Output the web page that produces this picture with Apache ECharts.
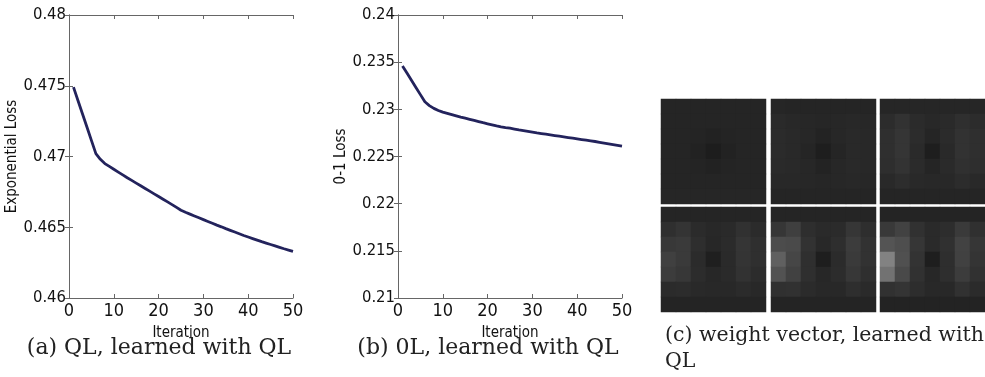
<!DOCTYPE html>
<html>
<head>
<meta charset="utf-8">
<script src="https://cdn.jsdelivr.net/npm/echarts@6/dist/echarts.min.js"></script>
<style>
  html, body { margin: 0; padding: 0; background: #fff; }
  #main { width: 985px; height: 377px; }
</style>
</head>
<body>
<div id="main"></div>
<script>
// (a) exponential loss per iteration (iterations 1..50)
var expLoss = [
  0.47490, 0.47396, 0.47302, 0.47208, 0.47114, 0.47020, 0.46980, 0.46950, 0.46930, 0.46910,
  0.46890, 0.46870, 0.46850, 0.46831, 0.46812, 0.46793, 0.46774, 0.46755, 0.46736, 0.46717,
  0.46698, 0.46679, 0.46660, 0.46640, 0.46620, 0.46606, 0.46593, 0.46580, 0.46567, 0.46554,
  0.46541, 0.46528, 0.46515, 0.46503, 0.46490, 0.46478, 0.46466, 0.46454, 0.46442, 0.46431,
  0.46420, 0.46409, 0.46398, 0.46388, 0.46378, 0.46368, 0.46358, 0.46348, 0.46339, 0.46330
];

// (b) 0-1 loss per iteration
var zeroOneLoss = [
  0.23460, 0.23384, 0.23308, 0.23232, 0.23156, 0.23080, 0.23040, 0.23010, 0.22988, 0.22970,
  0.22957, 0.22944, 0.22931, 0.22918, 0.22906, 0.22894, 0.22882, 0.22870, 0.22858, 0.22847,
  0.22836, 0.22825, 0.22815, 0.22807, 0.22800, 0.22791, 0.22782, 0.22774, 0.22766, 0.22758,
  0.22750, 0.22743, 0.22736, 0.22729, 0.22722, 0.22715, 0.22708, 0.22701, 0.22694, 0.22687,
  0.22680, 0.22673, 0.22666, 0.22659, 0.22651, 0.22643, 0.22635, 0.22627, 0.22619, 0.22611
];

// (c) weight vector tiles, grey level 0..255, 7x7 each, row 0 at top
var tile1 = [
  [37, 37, 37, 37, 37, 37, 37],
  [37, 37, 37, 37, 37, 37, 37],
  [37, 37, 36, 34, 36, 37, 37],
  [37, 37, 34, 29, 34, 37, 37],
  [37, 37, 36, 34, 36, 37, 37],
  [37, 37, 37, 37, 37, 37, 37],
  [38, 38, 38, 38, 38, 38, 38]
];
var tile2 = [
  [38, 37, 37, 37, 37, 37, 37],
  [42, 40, 39, 38, 39, 40, 39],
  [43, 41, 39, 35, 39, 41, 40],
  [43, 41, 37, 30, 37, 41, 40],
  [42, 41, 39, 35, 39, 41, 40],
  [40, 40, 39, 38, 39, 40, 39],
  [37, 37, 37, 37, 37, 37, 37]
];
var tile3 = [
  [38, 38, 38, 38, 38, 38, 38],
  [44, 50, 43, 40, 42, 47, 44],
  [47, 53, 44, 37, 43, 50, 47],
  [47, 53, 42, 30, 41, 50, 47],
  [46, 51, 43, 37, 42, 48, 46],
  [41, 45, 41, 40, 40, 44, 41],
  [37, 37, 37, 37, 37, 37, 37]
];
var tile4 = [
  [37, 37, 37, 37, 37, 37, 37],
  [47, 52, 43, 40, 42, 49, 43],
  [56, 58, 46, 39, 43, 53, 47],
  [64, 58, 43, 31, 42, 52, 47],
  [60, 55, 44, 39, 42, 50, 44],
  [43, 44, 41, 40, 40, 43, 40],
  [36, 36, 36, 36, 36, 36, 36]
];
var tile5 = [
  [37, 37, 37, 37, 37, 37, 37],
  [54, 63, 46, 42, 43, 54, 46],
  [76, 74, 50, 40, 46, 60, 50],
  [96, 70, 47, 30, 43, 58, 50],
  [82, 65, 47, 39, 44, 55, 47],
  [48, 49, 43, 40, 40, 46, 42],
  [36, 36, 36, 36, 36, 36, 36]
];
var tile6 = [
  [36, 36, 36, 36, 36, 36, 36],
  [57, 66, 49, 42, 45, 58, 48],
  [84, 78, 54, 42, 48, 66, 54],
  [130, 80, 51, 30, 46, 65, 52],
  [114, 73, 49, 39, 46, 60, 49],
  [49, 52, 45, 40, 40, 49, 43],
  [35, 35, 35, 35, 35, 35, 35]
];
var tiles = [tile1, tile2, tile3, tile4, tile5, tile6];

var chart = echarts.init(document.getElementById('main'));
var SANS = '"DejaVu Sans Condensed", "Liberation Sans", sans-serif';
var SERIF = '"DejaVu Serif", "Liberation Serif", serif';
var AXIS_COLOR = '#666';
var LINE_COLOR = '#23235c';

function fmt(v) { return String(+v.toFixed(3)); }

function pairs(arr) {
  return arr.map(function (v, i) { return [i + 1, v]; });
}

var grids = [
  { left: 69, top: 15, width: 224, height: 283 },
  { left: 398, top: 15, width: 224, height: 283 }
];
// 105 = 7 * 15, so every cell lands on whole pixels
var tileCells = [
  { left: 661, top: 99, width: 105, height: 105 },
  { left: 771, top: 99, width: 105, height: 105 },
  { left: 880, top: 99, width: 105, height: 105 },
  { left: 661, top: 207, width: 105, height: 105 },
  { left: 771, top: 207, width: 105, height: 105 },
  { left: 880, top: 207, width: 105, height: 105 }
];

var xAxes = [], yAxes = [], series = [];
var lineSpecs = [
  { data: expLoss, min: 0.46, max: 0.48, name: 'Exponential Loss' },
  { data: zeroOneLoss, min: 0.21, max: 0.24, name: '0-1 Loss' }
];

lineSpecs.forEach(function (s, g) {
  var tick = { show: true, inside: true, length: 4, lineStyle: { color: AXIS_COLOR } };
  var line = { show: true, lineStyle: { color: AXIS_COLOR, width: 1 } };
  xAxes.push({
    gridIndex: g, type: 'value', min: 0, max: 50, interval: 10,
    axisLine: line, axisTick: tick, splitLine: { show: false },
    axisLabel: { fontFamily: SANS, fontSize: 18, color: '#111', margin: 4 },
    name: 'Iteration', nameLocation: 'middle', nameGap: 28,
    nameTextStyle: { fontFamily: SANS, fontSize: 15, color: '#111' }
  });
  xAxes.push({
    gridIndex: g, type: 'value', position: 'top', min: 0, max: 50, interval: 10,
    axisLine: line, axisTick: tick, splitLine: { show: false },
    axisLabel: { show: false }
  });
  yAxes.push({
    gridIndex: g, type: 'value', min: s.min, max: s.max, interval: 0.005,
    axisLine: line, axisTick: tick, splitLine: { show: false },
    axisLabel: { fontFamily: SANS, fontSize: 16.5, color: '#111', margin: 3, formatter: fmt },
    name: s.name, nameLocation: 'middle', nameGap: 34,
    nameTextStyle: { fontFamily: SANS, fontSize: 15, color: '#111' }
  });
  yAxes.push({
    gridIndex: g, type: 'value', position: 'right', min: s.min, max: s.max, interval: 0.005,
    axisLine: line, axisTick: tick, splitLine: { show: false },
    axisLabel: { show: false }
  });
  series.push({
    type: 'line', xAxisIndex: g * 2, yAxisIndex: g * 2,
    data: pairs(s.data), showSymbol: false, silent: true,
    lineStyle: { color: LINE_COLOR, width: 2.8 }
  });
});

var cells = [0, 1, 2, 3, 4, 5, 6];
tiles.forEach(function (t, i) {
  var gi = 2 + i;
  xAxes.push({ gridIndex: gi, type: 'category', data: cells, show: false });
  yAxes.push({ gridIndex: gi, type: 'category', data: cells, show: false, inverse: true });
  var d = [];
  t.forEach(function (row, r) {
    row.forEach(function (v, c) { d.push([c, r, v]); });
  });
  series.push({
    type: 'heatmap', xAxisIndex: xAxes.length - 1, yAxisIndex: yAxes.length - 1,
    data: d, silent: true, itemStyle: { borderWidth: 0 }
  });
});

var heatIdx = series.map(function (s, i) { return s.type === 'heatmap' ? i : -1; })
  .filter(function (i) { return i >= 0; });

var capFont = '22px ' + SERIF;
chart.setOption({
  animation: false,
  backgroundColor: '#fff',
  grid: grids.concat(tileCells),
  xAxis: xAxes,
  yAxis: yAxes,
  visualMap: {
    show: false, type: 'continuous', min: 0, max: 255, seriesIndex: heatIdx,
    inRange: { color: ['#000000', '#ffffff'] }
  },
  graphic: [
    { type: 'text', x: 159, y: 348, style: { text: '(a) QL, learned with QL', font: capFont, fill: '#222', textAlign: 'center', textVerticalAlign: 'middle' } },
    { type: 'text', x: 488, y: 348, style: { text: '(b) 0L, learned with QL', font: capFont, fill: '#222', textAlign: 'center', textVerticalAlign: 'middle' } },
    { type: 'text', x: 665, y: 336, style: { text: '(c) weight vector, learned with', font: '20.5px ' + SERIF, fill: '#222', textAlign: 'left', textVerticalAlign: 'middle' } },
    { type: 'text', x: 665, y: 362, style: { text: 'QL', font: '20.5px ' + SERIF, fill: '#222', textAlign: 'left', textVerticalAlign: 'middle' } }
  ],
  series: series
});
</script>
</body>
</html>
